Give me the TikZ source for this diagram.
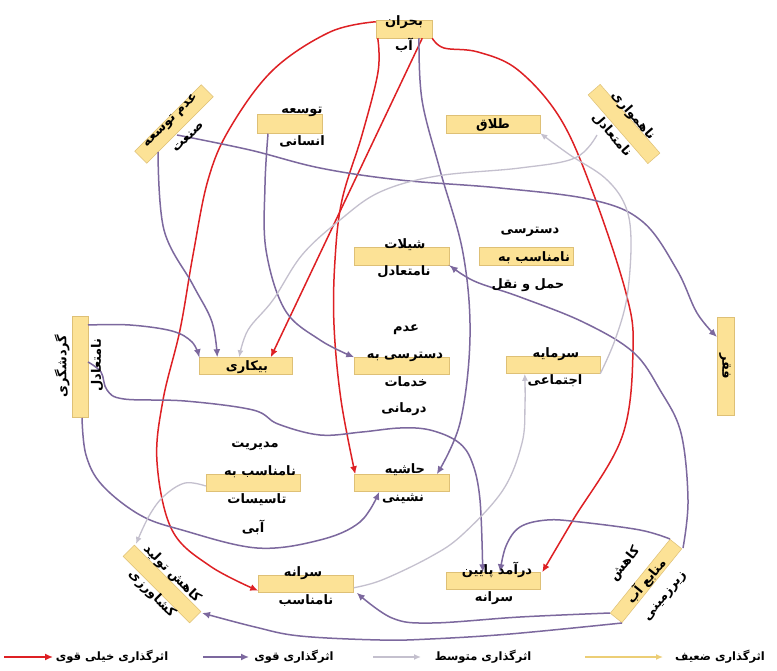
\documentclass[tikz,border=0pt]{standalone}
\usepackage{fontspec}
\newfontfamily\fafont[Script=Arabic]{DejaVu Sans}
\TeXXeTstate=1
\usetikzlibrary{arrows.meta}
\definecolor{boxfill}{RGB}{252,226,150}
\definecolor{boxdraw}{RGB}{222,192,118}
\definecolor{vred}{RGB}{222,32,36}
\definecolor{vpur}{RGB}{124,104,158}
\definecolor{vgray}{RGB}{196,192,206}
\definecolor{vyel}{RGB}{236,206,118}
\newcommand{\fatxt}[1]{{\fafont\bfseries\beginR #1\endR}}
\tikzset{
  box/.style={draw=boxdraw, line width=0.5pt, fill=boxfill, minimum height=18pt, inner sep=0pt},
  lbl/.style={font=\fontsize{13}{14}\selectfont, inner sep=0pt, text=black},
  leg/.style={font=\fontsize{11.5}{12}\selectfont, inner sep=0pt, text=black},
  vstrong/.style={draw=vred, line width=1.5pt, -{Latex[length=8pt,width=7pt]}},
  strong/.style={draw=vpur, line width=1.5pt, -{Latex[length=8pt,width=7pt]}},
  medium/.style={draw=vgray, line width=1.3pt, -{Latex[length=7pt,width=6pt]}},
  weak/.style={draw=vyel, line width=1.3pt, -{Latex[length=7pt,width=6pt]}},
}
\begin{document}
\begin{tikzpicture}[x=1pt,y=-1pt]
\fill[white] (0,0) rectangle (777,671);
\useasboundingbox (0,0) rectangle (777,671);

% ---------- boxes ----------
\node[box, minimum width=56pt] (b1) at (404,29) {};
\node[box, minimum width=94pt, minimum height=17pt, rotate=45] (b2) at (174,124) {};
\node[box, minimum width=65pt, minimum height=19pt] (b3) at (290,124) {};
\node[box, minimum width=94pt] (b4) at (493,124) {};
\node[box, minimum width=91pt, minimum height=16pt, rotate=-49] (b5) at (624,124) {};
\node[box, minimum width=95pt] (b6) at (402,256) {};
\node[box, minimum width=94pt] (b7) at (526,256) {};
\node[box, minimum width=101pt, minimum height=16pt, rotate=90] (b8) at (80,367) {};
\node[box, minimum width=93pt, minimum height=17pt] (b9) at (246,366) {};
\node[box, minimum width=95pt, minimum height=17pt] (b10) at (402,366) {};
\node[box, minimum width=94pt, minimum height=17pt] (b11) at (553,365) {};
\node[box, minimum width=98pt, minimum height=17pt, rotate=-90] (b12) at (726,366) {};
\node[box, minimum width=94pt, minimum height=17pt] (b13) at (253,483) {};
\node[box, minimum width=95pt, minimum height=17pt] (b14) at (402,483) {};
\node[box, minimum width=94pt, minimum height=16pt, rotate=-45] (b15) at (162,584) {};
\node[box, minimum width=95pt, minimum height=17pt] (b16) at (306,584) {};
\node[box, minimum width=94pt, minimum height=17pt] (b17) at (493,581) {};
\node[box, minimum width=95pt, minimum height=15pt, rotate=51] (b18) at (646,581) {};

% ---------- very strong (red) ----------
\draw[vstrong] plot[smooth, tension=0.6] coordinates {([yshift=-2pt]b1.north west) (330,32) (273,70) (230,128) (208,180) (193,255) (180,330) (163,400) (157,462) (172,530) (210,566) ([yshift=2pt]b16.south west)};
\draw[vstrong] plot[smooth, tension=0.6] coordinates {([xshift=2pt]b1.south west) (378,72) (362,135) (342,200) (335,260) (334,325) (341,400) ([xshift=1pt]b14.north west)};
\draw[vstrong] ([xshift=-10pt]b1.south east) -- ([xshift=-22pt]b9.north east);
\draw[vstrong] plot[smooth, tension=0.6] coordinates {(b1.south east) (444,48) (478,52) (518,70) (560,118) (592,190) (626,293) (633,350) (622,437) (573,520) ([xshift=2pt]b17.north east)};

% ---------- strong (purple) ----------
\draw[strong] plot[smooth, tension=0.6] coordinates {([xshift=15pt]b1.south) (422,100) (440,170) (463,253) (470,337) (460,423) ([xshift=-13pt]b14.north east)};
\draw[strong] plot[smooth, tension=0.6] coordinates {([shift={(-16,28)}]b2.center) (164,230) (193,285) (212,322) ([xshift=18pt]b9.north west)};
\draw[strong] plot[smooth, tension=0.6] coordinates {([shift={(3,11)}]b2.center) (250,150) (320,168) (400,180) (500,188) (593,200) (643,222) (677,270) (697,313) ([shift={(-9,-29)}]b12.center)};
\draw[strong] plot[smooth, tension=0.6] coordinates {([xshift=-22pt]b3.south) (265,185) (266,250) (285,310) (320,340) (b10.north west)};
\draw[strong] plot[smooth, tension=0.6] coordinates {([shift={(8,-42)}]b8.center) (130,325) (172,331) (192,342) (b9.north west)};
\draw[strong] plot[smooth, tension=0.6] coordinates {([shift={(8,-5)}]b8.center) (101,372) (107,390) (124,399) (185,401) (253,410) (278,424) (320,435) (362,432) (400,428) (430,430) (458,442) (472,462) (480,500) ([xshift=37pt]b17.north west)};
\draw[strong] plot[smooth, tension=0.6] coordinates {([shift={(2,51)}]b8.center) (86,455) (102,485) (140,515) (182,530) (257,548) (320,540) (360,522) ([xshift=25pt]b14.south west)};
\draw[strong] plot[smooth, tension=0.6] coordinates {([shift={(-36,32)}]b18.center) (520,617) (432,623) (392,618) ([xshift=3pt]b16.south east)};
\draw[strong] plot[smooth, tension=0.6] coordinates {([shift={(-24,42)}]b18.center) (510,634) (430,639) (380,640) (300,636) (255,627) ([shift={(40,29)}]b15.center)};
\draw[strong] plot[smooth, tension=0.6] coordinates {([shift={(37,-33)}]b18.center) (688,500) (681,433) (660,390) (633,352) (583,322) (520,297) (474,281) (b6.south east)};
\draw[strong] plot[smooth, tension=0.6] coordinates {([shift={(24,-42)}]b18.center) (640,530) (580,522) (547,520) (520,527) (506,546) ([xshift=7pt]b17.north)};

% ---------- medium (gray) ----------
\draw[medium] plot[smooth, tension=0.6] coordinates {([shift={(-27,11)}]b5.center) (575,158) (520,168) (437,176) (380,192) (340,220) (302,255) (273,300) (248,330) ([xshift=40pt]b9.north west)};
\draw[medium] plot[smooth, tension=0.6] coordinates {(b11.south east) (615,340) (627,297) (631,240) (625,205) (605,178) (570,155) (b4.south east)};
\draw[medium] plot[smooth, tension=0.6] coordinates {([yshift=5pt]b16.south east) (382,580) (430,557) (462,535) (503,490) (522,443) (525,405) ([xshift=19pt]b11.south west)};
\draw[medium] plot[smooth, tension=0.6] coordinates {([yshift=-3pt]b13.west) (185,483) (164,496) (149,516) ([shift={(-26,-40)}]b15.center)};

% ---------- labels ----------
\node[lbl] (t1a) at (404,22) {\fatxt{بحران}};
\node[lbl] (t1b) at (404,45) {\fatxt{آب}};
\node[lbl, rotate=45] (t2a) at (171,121) {\fatxt{عدم توسعه}};
\node[lbl, rotate=45] (t2b) at (188,137) {\fatxt{صنعت}};
\node[lbl] (t3a) at (302,112) {\fatxt{توسعه}};
\node[lbl] (t3b) at (302,141) {\fatxt{انسانی}};
\node[lbl] (t4) at (493,125) {\fatxt{طلاق}};
\node[lbl, rotate=-49] (t5a) at (633,116) {\fatxt{ناهمواری}};
\node[lbl, rotate=-49] (t5b) at (612,135) {\fatxt{نامتعادل}};
\node[lbl] (t6a) at (405,245) {\fatxt{شیلات}};
\node[lbl] (t6b) at (404,272) {\fatxt{نامتعادل}};
\node[lbl] (t7a) at (530,232) {\fatxt{دسترسی}};
\node[lbl] (t7b) at (534,258) {\fatxt{نامناسب به}};
\node[lbl] (t7c) at (528,285) {\fatxt{حمل و نقل}};
\node[lbl, rotate=90] (t8a) at (62,366) {\fatxt{گردشگری}};
\node[lbl, rotate=90] (t8b) at (97,365) {\fatxt{نامتعادل}};
\node[lbl] (t9) at (247,367) {\fatxt{بیکاری}};
\node[lbl] (t10a) at (406,330) {\fatxt{عدم}};
\node[lbl] (t10b) at (405,357) {\fatxt{دسترسی به}};
\node[lbl] (t10c) at (406,382) {\fatxt{خدمات}};
\node[lbl] (t10d) at (404,409) {\fatxt{درمانی}};
\node[lbl] (t11a) at (556,354) {\fatxt{سرمایه}};
\node[lbl] (t11b) at (555,381) {\fatxt{اجتماعی}};
\node[lbl, rotate=-90] (t12) at (725,366) {\fatxt{فقر}};
\node[lbl] (t13a) at (255,446) {\fatxt{مدیریت}};
\node[lbl] (t13b) at (260,472) {\fatxt{نامناسب به}};
\node[lbl] (t13c) at (257,500) {\fatxt{تاسیسات}};
\node[lbl] (t13d) at (253,527) {\fatxt{آبی}};
\node[lbl] (t14a) at (405,470) {\fatxt{حاشیه}};
\node[lbl] (t14b) at (403,499) {\fatxt{نشینی}};
\node[lbl, rotate=-45] (t15a) at (172,574) {\fatxt{کاهش تولید}};
\node[lbl, rotate=-45] (t15b) at (152,594) {\fatxt{کشاورزی}};
\node[lbl] (t16a) at (303,573) {\fatxt{سرانه}};
\node[lbl] (t16b) at (306,601) {\fatxt{نامناسب}};
\node[lbl] (t17a) at (497,570) {\fatxt{درآمد پایین}};
\node[lbl] (t17b) at (494,598) {\fatxt{سرانه}};
\node[lbl, rotate=51] (t18a) at (625,564) {\fatxt{کاهش}};
\node[lbl, rotate=51] (t18b) at (646,581) {\fatxt{منابع آب}};
\node[lbl, rotate=51] (t18c) at (666,597) {\fatxt{زیرزمینی}};

% ---------- legend ----------
\coordinate (lr1) at (4,657);   \coordinate (lr2) at (53,657);
\coordinate (lp1) at (203,657); \coordinate (lp2) at (249,657);
\coordinate (lg1) at (373,657); \coordinate (lg2) at (421,657);
\coordinate (ly1) at (585,657); \coordinate (ly2) at (663,657);
\draw[vstrong] (lr1) -- (lr2);
\draw[strong] (lp1) -- (lp2);
\draw[medium] (lg1) -- (lg2);
\draw[weak] (ly1) -- (ly2);
\node[leg] (lt1) at (112,657) {\fatxt{اثرگذاری خیلی قوی}};
\node[leg] (lt2) at (294,657) {\fatxt{اثرگذاری قوی}};
\node[leg] (lt3) at (483,657) {\fatxt{اثرگذاری متوسط}};
\node[leg] (lt4) at (720,657) {\fatxt{اثرگذاری ضعیف}};
\end{tikzpicture}
\end{document}
